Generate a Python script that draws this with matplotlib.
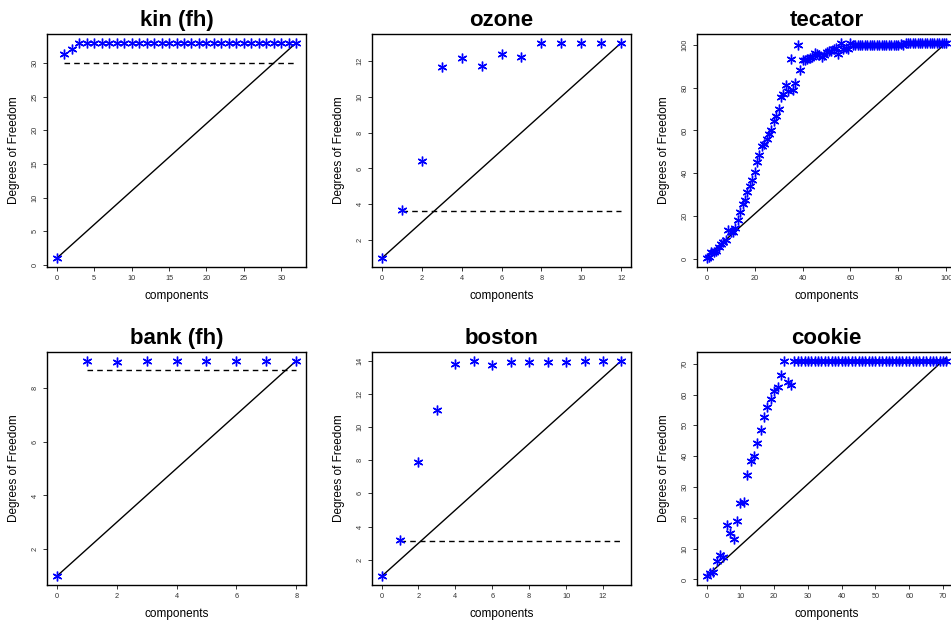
import matplotlib
matplotlib.use("Agg")
import matplotlib.pyplot as plt
import numpy as np

plt.rcParams['font.family'] = ['Liberation Sans', 'DejaVu Sans']

# degrees of freedom per number of components
kin_dof = [1, 31.3, 32.1, 33, 33, 33, 33, 33, 33, 33, 33, 33, 33, 33, 33, 33, 33,
           33, 33, 33, 33, 33, 33, 33, 33, 33, 33, 33, 33, 33, 33, 33, 33]
kin_ref = 30

ozone_dof = [1, 3.68, 6.43, 11.63, 12.15, 11.7, 12.37, 12.2, 13, 13, 13, 13, 13]
ozone_ref = 3.64

tecator_dof = [0.3, 1.0, 3.2, 3.5, 3.9, 5.8, 7.0, 7.8, 8.9, 13.6,
               12.5, 12.7, 14.4, 18.0, 21.8, 25.5, 27.7, 31.5, 34.0, 36.9,
               40.6, 45.3, 48.6, 52.9, 53.6, 56.2, 58.3, 60.3, 64.3, 66.9,
               69.9, 75.5, 77.2, 81.3, 78.6, 93.5, 78.8, 82.2, 100.0, 88.3,
               93.0, 92.8, 93.2, 93.8, 94.5, 96.0, 95.5, 95.0, 94.5, 95.3,
               96.5, 97.0, 97.2, 97.8, 98.5, 95.8, 101.0, 98.0, 98.5, 97.8,
               101.0, 100, 100, 100, 100, 100, 100, 100, 100, 100,
               100, 100, 100, 100, 100, 100, 100, 100, 100, 100,
               100, 100.5, 100, 101, 101, 101, 101, 101, 101, 101,
               101, 101, 101, 101, 101, 101, 101, 101, 101, 101, 101]
tecator_ref = None

bank_dof = [1, 8.99, 8.94, 9, 9, 9, 9, 9, 9]
bank_ref = 8.66

boston_dof = [1, 3.21, 7.92, 11.01, 13.8, 13.98, 13.74, 13.9, 13.9, 13.9,
              13.9, 14, 14, 14]
boston_ref = 3.13

cookie_dof = [1, 2, 2.4, 6, 7.8, 7.3, 17.7, 15.2, 13.2, 19.0,
              24.7, 25.2, 33.8, 38.5, 39.9, 44.3, 48.4, 52.8, 56.0, 58.6,
              61.2, 62.5, 66.2, 71, 64.2, 63, 71, 71, 71, 71,
              71, 71, 71, 71, 71, 71, 71, 71, 71, 71,
              71, 71, 71, 71, 71, 71, 71, 71, 71, 71,
              71, 71, 71, 71, 71, 71, 71, 71, 71, 71,
              71, 71, 71, 71, 71, 71, 71, 71, 71, 71, 71, 71]
cookie_ref = None

titles = ["kin (fh)", "ozone", "tecator", "bank (fh)", "boston", "cookie"]
dofs = [kin_dof, ozone_dof, tecator_dof, bank_dof, boston_dof, cookie_dof]
refs = [kin_ref, ozone_ref, tecator_ref, bank_ref, boston_ref, cookie_ref]
xticks = [np.arange(0, 31, 5), np.arange(0, 13, 2), np.arange(0, 101, 20),
          np.arange(0, 9, 2), np.arange(0, 13, 2), np.arange(0, 71, 10)]
yticks = [np.arange(0, 31, 5), np.arange(2, 13, 2), np.arange(0, 101, 20),
          np.arange(2, 9, 2), np.arange(2, 15, 2), np.arange(0, 71, 10)]

W, H = 951, 621
fig = plt.figure(figsize=(W / 100, H / 100), dpi=100)

# panel boxes in pixels: left, top
lefts = [47, 372, 697]
tops = [34, 352]
pw, ph = 259, 233


def rlim(lo, hi):
    # R style 4% extension
    d = (hi - lo) * 0.04
    return lo - d, hi + d


for i in range(6):
    r, c = divmod(i, 3)
    ax = fig.add_axes([lefts[c] / W, 1 - (tops[r] + ph) / H, pw / W, ph / H])
    y = np.array(dofs[i])
    x = np.arange(len(y))
    n = x[-1]

    ax.plot(x, y, linestyle='none', marker=(6, 2, 0), color='#0000FF',
            markersize=7, markeredgewidth=1.0, zorder=3)
    ax.plot([0, n], [1, n + 1], color='black', lw=1.0, zorder=2)
    if refs[i] is not None:
        ax.plot([1, n], [refs[i], refs[i]], color='black', lw=1.0,
                dashes=(4, 3), zorder=2)

    ax.set_xlim(rlim(0, n))
    ax.set_ylim(rlim(y.min(), y.max()))
    ax.set_xticks(xticks[i])
    ax.set_yticks(yticks[i])
    ax.tick_params(labelsize=5.3, length=3, width=0.7, pad=3, colors='#333333')
    for lab in ax.get_yticklabels():
        lab.set_rotation(90)
        lab.set_va('center')
    for s in ax.spines.values():
        s.set_linewidth(1.0)

    ax.set_title(titles[i], fontsize=16, fontweight='bold', pad=6)
    ax.set_xlabel("components", fontsize=8.5)
    ax.set_ylabel("Degrees of Freedom", fontsize=8.5)
    ax.xaxis.set_label_coords(0.5, -0.10)
    ax.yaxis.set_label_coords(-0.105, 0.5)

fig.savefig("out.png", dpi=100)
